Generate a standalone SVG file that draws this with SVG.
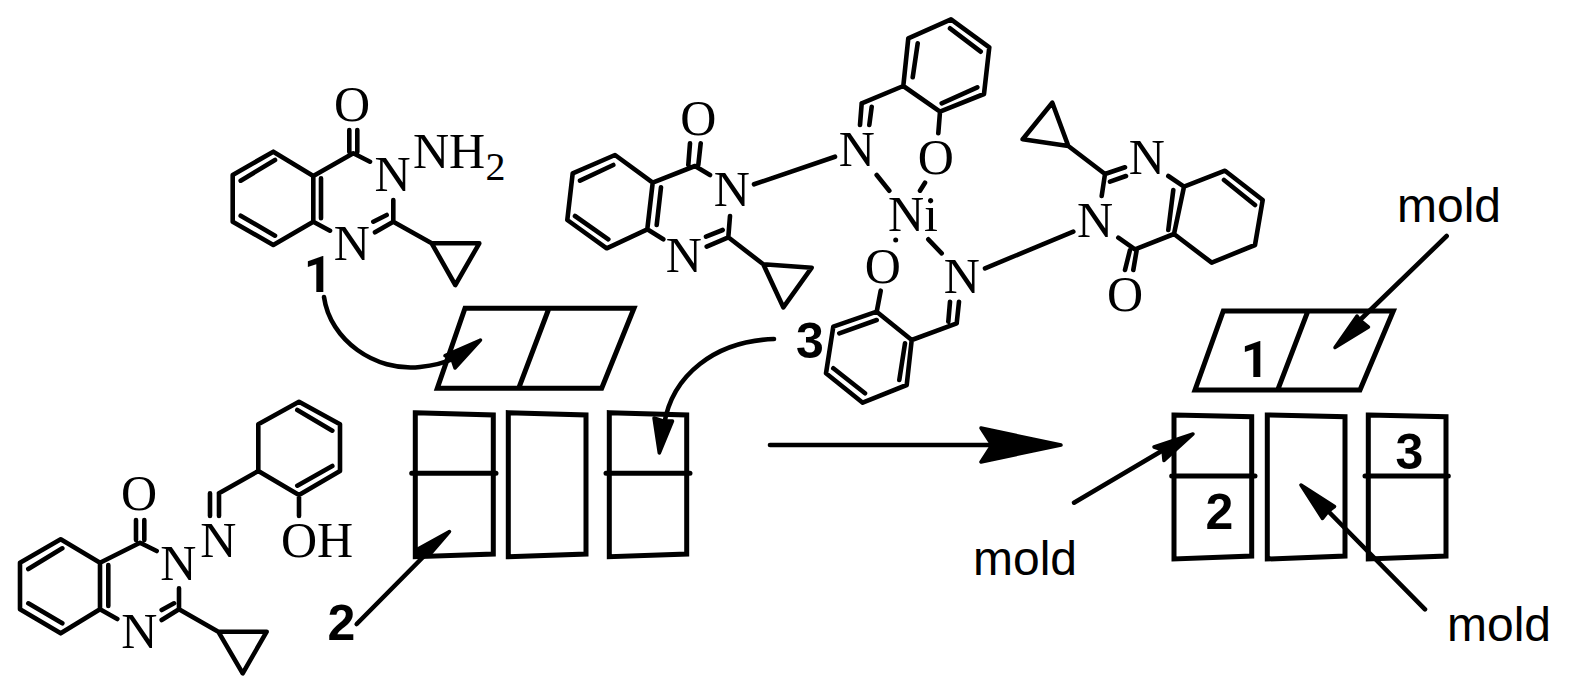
<svg xmlns="http://www.w3.org/2000/svg" width="1570" height="676" viewBox="0 0 1570 676">
<style>
.b{fill:none;stroke:#000;stroke-width:4.6;stroke-linecap:round;stroke-linejoin:round}
.p{fill:none;stroke:#000;stroke-width:5;stroke-linecap:round;stroke-linejoin:miter}
.h{fill:#000;stroke:#000;stroke-width:3.500;stroke-linejoin:round}
.a{font-family:"Liberation Serif","Times New Roman",serif;font-size:50px;fill:#000;text-anchor:middle}
.s{font-size:40px}
.n{font-family:"Liberation Sans",Arial,sans-serif;font-size:50px;font-weight:700;fill:#000;text-anchor:middle}
.r{font-family:Roboto,"Liberation Sans",sans-serif}
.m{font-family:"Liberation Sans",Arial,sans-serif;font-size:48px;fill:#000}
</style>
<rect width="1570" height="676" fill="#fff"/>

<g id="compound-1">
<path class="b" d="M273.300 151.700L232.700 175V221.700L273.300 245L313.300 221.700V176ZM275 160L240.700 180.700M240.700 215.700L275 235.700M321 178.300V218.300M313.300 176L353.300 153.300L370 161.700M349.300 130V152M357.300 130V152M313.300 221.700L330 230.700M393.300 200V221.700L375 232.300M373.300 221.700L386.700 215M393.300 221.700L431.700 243.300H479.300L455.300 285L431.700 243.300"/>
<text class="a" x="352" y="121">O</text>
<text class="a" x="392.500" y="190.700">N</text>
<text class="a" x="351.700" y="260">N</text>
<text class="a" x="413" y="168.300" style="text-anchor:start">NH</text>
<text class="a s" x="495.500" y="180">2</text>
</g>

<g id="compound-2">
<path class="b" d="M60.700 539.300L20 562.700V609.300L60.700 633.300L100 609.300V562.700ZM62.300 548.300L28.300 569M28.300 603.300L62.300 623.300M108.300 565V606M100 562.700L140 542.700L156.700 551M136 520V540M144.300 520V540M100 609.300L117.300 619M179 588.300V609.300L161.700 620M161.700 610L174 603.300M179 609.300L218.300 631.700H266.700L242.700 673.300L218.300 631.700M210 493.300V516M219 493.300V516M219 493.300L258.300 471V424.300L299 401.700L340 424.300V471L299 495L258.300 471M297.300 410L332.300 430.700M332.300 466L297.300 485.700M299 495V516"/>
<text class="a" x="139" y="510">O</text>
<text class="a" x="178.300" y="580">N</text>
<text class="a" x="218.300" y="556.700">N</text>
<text class="a" x="317" y="556.700">OH</text>
<text class="a" x="139.300" y="648.300">N</text>
</g>

<g id="complex-3">
<path class="b" d="M615 155L572.700 173.300L567.300 220L606.700 248.300L647.300 229.300L652.700 182.700ZM613.300 165L580 180.700M575 216L608.300 239.300M661 187.300L656.700 225M652.700 182.700L695 166L710 175M690 143.300L688.300 165M700.700 143.300L698.300 165M647.300 229.300L663.300 239.300M730 216L728.300 237.300L706.700 246.700M706 236.700L722.700 230M728.300 237.300L763.300 264.300L811.700 267.700L783.300 307.300L763.300 264.300M754 184.300L835 156.700M861.700 103.300L860 125M871.700 106.700L869.300 125M861.700 103.300L903.300 86L908.300 38.300L951 19.300L989.300 47.300L984 94L940 111.700L903.300 86M917.700 43.300L912.700 77.300M950 28.300L980.700 51.700M977.300 87.300L941.700 103.300M940 111.700L938.300 133.300M876.700 175L889.300 190.700M925 182.700L920 190.700M928.300 239.300L941.700 253.300M985 268.300L1073.300 231.700M948.300 321.700L950 301.700M956.700 323.300L959 301.700M956.700 323.300L911.700 340L876.700 311.700L833.300 326.700L826 373.300L862.700 402.700L906.700 385L911.700 340M876.700 320L839.300 333.300M833.300 368.300L865 393.300M905 343.300L899.300 380M880.700 290.700L876.700 311.700M1052.300 102.700L1022.700 139.300L1068.300 146ZM1068.300 146L1105 174L1125 167.300M1110 181.700L1126 176M1105 174L1101.700 196M1118.300 237.700L1135 249.300L1174 234M1130 250L1125 270M1136.700 250L1133.300 270M1168.300 176L1184 186.700L1225 170.700L1262.700 200L1255 245L1211.700 262.700L1174 234L1184 186.700M1173.300 190L1168.300 230M1224 180L1255 205"/>
<circle cx="895.700" cy="240" r="2.500"/>
<text class="a" x="698.300" y="135">O</text>
<text class="a" x="731.700" y="206">N</text>
<text class="a" x="683.700" y="271.700">N</text>
<text class="a" x="856.700" y="165.700">N</text>
<text class="a" x="935.700" y="174">O</text>
<text class="a" x="913" y="230.700">Ni</text>
<text class="a" x="882.700" y="282.700">O</text>
<text class="a" x="961.700" y="293.300">N</text>
<text class="a" x="1146.700" y="174">N</text>
<text class="a" x="1095" y="236.700">N</text>
<text class="a" x="1125" y="310.700">O</text>
</g>

<g id="label-1"><text class="n r" x="318" y="291.700">1</text></g>
<g id="label-2"><text class="n" x="341.500" y="640">2</text></g>
<g id="label-3"><text class="n" x="810" y="358">3</text></g>

<g id="mold-empty">
<path class="p" d="M465 308.300H634L601.700 388.300H437.300ZM548.300 310L519.300 386.700"/>
<path class="p" d="M415.300 412.700L493.300 415V554L415.300 556.700ZM411.700 473.300H496"/>
<path class="p" d="M508.300 412.700L586 415V554L508.300 556.700Z"/>
<path class="p" d="M609.300 412.700L686.700 415V554L609.300 556.700ZM606 473.300H690"/>
</g>

<g id="mold-filled">
<path class="p" d="M1223.300 311H1393.300L1360 390H1195ZM1307.300 312.700L1278.300 388.300"/>
<path class="p" d="M1174 415L1251.700 416.700V556L1174 559ZM1171.700 476H1255"/>
<path class="p" d="M1267.300 415L1345 416.700V556L1267.300 559Z"/>
<path class="p" d="M1368.300 415L1446 416.700V556L1368.300 559ZM1365 476H1448.300"/>
<text class="n r" x="1255" y="376.700">1</text>
<text class="n" x="1219.300" y="529">2</text>
<text class="n" x="1409.500" y="469">3</text>
</g>

<g id="mold-labels">
<text class="m" x="1397" y="221.700">mold</text>
<text class="m" x="973" y="575">mold</text>
<text class="m" x="1447" y="640.700">mold</text>
</g>

<g id="connectors">
<path class="b" d="M324 297C330 340 375 372 420 367Q440 365 455 358"/>
<polygon class="h" points="480.500,340 445,355.700 452,359 455,368"/>
<path class="b" d="M774 339C715 341 672 375 664 425"/>
<polygon class="h" points="659.300,453 654,418 663,421 672.500,421"/>
<path class="b" d="M356.700 624L432 548"/>
<polygon class="h" points="449.500,531.500 416,550 419,556 431,553"/>
<path class="b" d="M770 445H992"/>
<polygon class="h" points="1061,445 981,428 992,445 981,462"/>
<path class="b" d="M1446.700 236L1360 320"/>
<polygon class="h" points="1335,347.500 1357,316 1360,320 1368.500,327"/>
<path class="b" d="M1074 502.700L1165 449"/>
<polygon class="h" points="1193,434 1154,447 1163,450 1164,460.500"/>
<path class="b" d="M1425 609.300L1328 511"/>
<polygon class="h" points="1301,485 1334.500,506.500 1328,511.500 1322.500,518.500"/>
</g>
</svg>
